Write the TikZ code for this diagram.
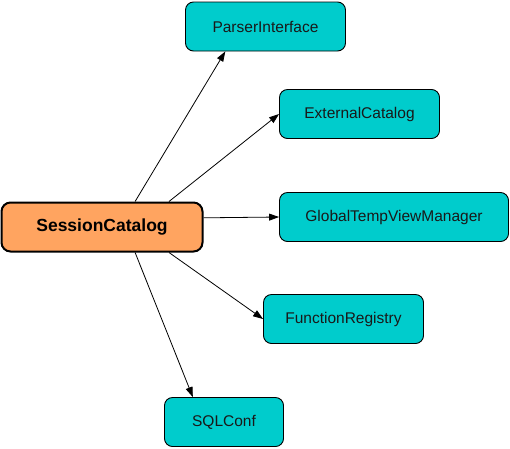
\documentclass[tikz,border=0pt]{standalone}
\usepackage{fontspec}
\setmainfont{Liberation Sans}
\usetikzlibrary{arrows.meta,calc}
\definecolor{cyanfill}{RGB}{0,204,204}
\definecolor{orangefill}{RGB}{255,164,96}
\tikzset{
  box/.style={draw=black, line width=0.9pt, fill=cyanfill, rounded corners=8pt,
    minimum height=49pt, inner sep=0pt, font=\fontsize{15.5}{18}\selectfont, text=black!90},
  mainbox/.style={draw=black, line width=2pt, fill=orangefill, rounded corners=9pt,
    minimum height=49pt, minimum width=201pt, inner sep=0pt,
    font=\fontsize{17.5}{20}\selectfont\bfseries},
  conn/.style={draw=black, line width=0.8pt, -{Triangle[length=10pt,width=7pt]}}
}
\begin{document}
\begin{tikzpicture}[x=1pt,y=-1pt]
\useasboundingbox (0,0) rectangle (510,448);
\node[mainbox] (sc) at (102,227) {SessionCatalog};
\node[box, minimum width=160pt] (pi) at (265.5,26.5) {ParserInterface};
\node[box, minimum width=160pt] (ec) at (359.5,114) {ExternalCatalog};
\node[box, minimum width=229pt] (gt) at (394,217) {GlobalTempViewManager};
\node[box, minimum width=160pt] (fr) at (343.5,319) {FunctionRegistry};
\node[box, minimum width=119pt] (sq) at (224,422) {SQLConf};
\draw[conn] ($(sc.north west)!0.663!(sc.north east)$) -- ($(pi.south west)!0.25!(pi.south east)$);
\draw[conn] ($(sc.north west)!0.83!(sc.north east)$) -- (ec.west);
\draw[conn] ($(sc.north east)!0.32!(sc.south east)$) -- (gt.west);
\draw[conn] ($(sc.south west)!0.83!(sc.south east)$) -- (fr.west);
\draw[conn] ($(sc.south west)!0.663!(sc.south east)$) -- ($(sq.north west)!0.24!(sq.north east)$);
\end{tikzpicture}
\end{document}
